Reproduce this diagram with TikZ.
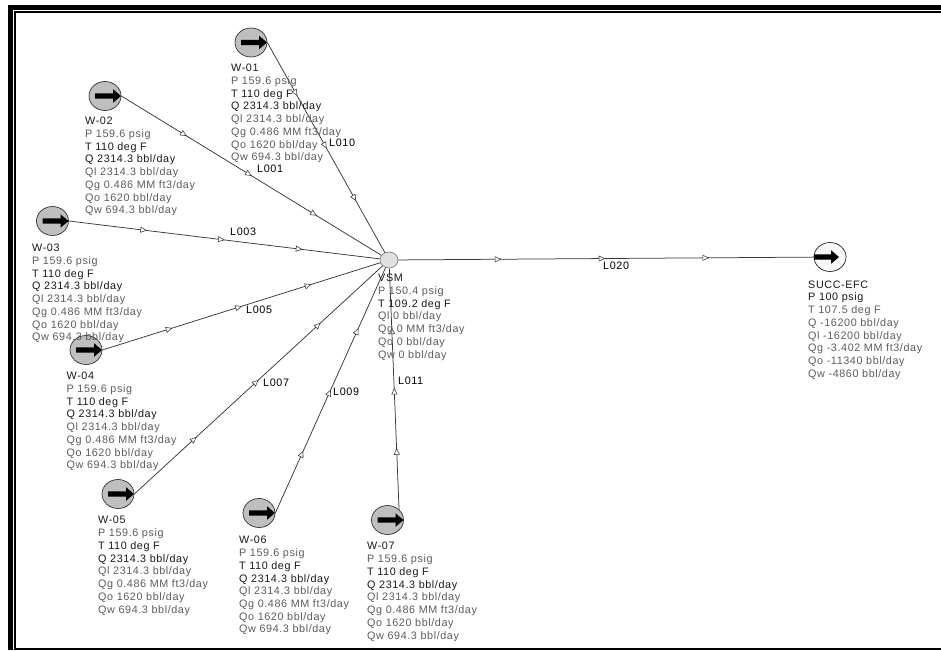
\documentclass[tikz,border=0pt]{standalone}
\usepackage{fontspec}
\setmainfont{Liberation Sans}
\newfontfamily\wideinfo[LetterSpace=5.5]{Liberation Sans}
\usetikzlibrary{shapes.geometric,decorations.markings}
\definecolor{infogrey}{gray}{0.36}
\definecolor{linedark}{gray}{0.22}
\newcommand{\dk}[1]{\textcolor{black!90}{#1}}
\newcommand{\gy}[1]{\textcolor{infogrey}{#1}}
\newcommand{\wellinfo}[1]{\dk{#1}\\\gy{P 159.6 psig}\\\dk{T 110 deg F}\\\dk{Q 2314.3 bbl/day}\\\gy{Ql 2314.3 bbl/day}\\\gy{Qg 0.486 MM ft3/day}\\\gy{Qo 1620 bbl/day}\\\gy{Qw 694.3 bbl/day}}
\tikzset{
  wellnode/.style={ellipse,draw=black!80,line width=0.7pt,fill=black!25,minimum width=32pt,minimum height=29pt,inner sep=0pt},
  junction/.style={ellipse,draw=black!55,line width=0.6pt,fill=black!12,minimum width=18pt,minimum height=16pt,inner sep=0pt},
  sinknode/.style={ellipse,draw=black!85,line width=0.7pt,fill=black!3,minimum width=32pt,minimum height=29pt,inner sep=0pt},
  infotext/.style={anchor=north west,inner sep=0pt,align=left,font=\wideinfo\fontsize{10.8}{12.75}\selectfont},
  pipelabel/.style={anchor=west,inner sep=0pt,text=black,font=\wideinfo\fontsize{10.8}{12}\selectfont},
  pipe/.style={draw=linedark,line width=0.75pt,postaction={decorate},
    decoration={markings,
      mark=at position 0.24 with {\draw[line width=0.55pt,draw=linedark,fill=white] (-2.8pt,2.6pt)--(2.8pt,0pt)--(-2.8pt,-2.6pt)--cycle;},
      mark=at position 0.49 with {\draw[line width=0.55pt,draw=linedark,fill=white] (-2.8pt,2.6pt)--(2.8pt,0pt)--(-2.8pt,-2.6pt)--cycle;},
      mark=at position 0.74 with {\draw[line width=0.55pt,draw=linedark,fill=white] (-2.8pt,2.6pt)--(2.8pt,0pt)--(-2.8pt,-2.6pt)--cycle;}}},
  flowarrow/.pic={\fill[black] (-10,-2.7)--(8,-2.7)--(8,-6.8)--(16,0)--(8,6.8)--(8,2.7)--(-10,2.7)--cycle;},
  sinkarrow/.pic={\fill[black] (-16,-2.7)--(1,-2.7)--(1,-6.8)--(9,0)--(1,6.8)--(1,2.7)--(-16,2.7)--cycle;}
}
\begin{document}
\begin{tikzpicture}[x=1pt,y=-1pt]
\useasboundingbox (0,0) rectangle (941,650);
\fill[white] (0,0) rectangle (941,650);
% frame
\fill[black] (8,5) rectangle (941,10);
\fill[black] (8,5) rectangle (13,650);
\fill[black] (14,11) rectangle (941,13);
\fill[black] (14,11) rectangle (16,650);
\fill[black] (14,647.5) rectangle (941,650);
% nodes
\node[junction] (vsm) at (389,260) {};
\node[wellnode] (w1) at (251,42.5) {};
\node[wellnode] (w2) at (105,96) {};
\node[wellnode] (w3) at (52.5,221) {};
\node[wellnode] (w4) at (86,350) {};
\node[wellnode] (w5) at (118,494) {};
\node[wellnode] (w6) at (259,513) {};
\node[wellnode] (w7) at (387.5,520) {};
\node[sinknode] (succ) at (830,257) {};
% connectors
\draw[pipe] (w1.east) -- (vsm);
\draw[pipe] (w2.east) -- (vsm);
\draw[pipe] (w3.east) -- (vsm);
\draw[pipe] (w4.east) -- (vsm);
\draw[pipe] (w5.east) -- (vsm);
\draw[pipe] (w6.east) -- (vsm);
\draw[pipe] (w7.north east) -- (vsm);
\draw[pipe] (vsm) -- (succ);
% arrows in symbols
\pic at (w1) {flowarrow};
\pic at (w2) {flowarrow};
\pic at (w3) {flowarrow};
\pic at (w4) {flowarrow};
\pic at (w5) {flowarrow};
\pic at (w6) {flowarrow};
\pic at (w7) {flowarrow};
\pic at (succ) {sinkarrow};
% info text
\node[infotext] (t1) at (231,64) {\wellinfo{W-01}};
\node[infotext] (t2) at (85,117) {\wellinfo{W-02}};
\node[infotext] (t3) at (32,244) {\wellinfo{W-03}};
\node[infotext] (t4) at (66.5,372) {\wellinfo{W-04}};
\node[infotext] (t5) at (98,516) {\wellinfo{W-05}};
\node[infotext] (t6) at (239,536) {\wellinfo{W-06}};
\node[infotext] (t7) at (367,542) {\wellinfo{W-07}};
\node[infotext] (tv) at (378,274) {\dk{VSM}\\\gy{P 150.4 psig}\\\dk{T 109.2 deg F}\\\gy{Ql 0 bbl/day}\\\gy{Qg 0 MM ft3/day}\\\gy{Qo 0 bbl/day}\\\gy{Qw 0 bbl/day}};
\node[infotext] (ts) at (808,280.5) {\dk{SUCC-EFC}\\\dk{P 100 psig}\\\gy{T 107.5 deg F}\\\gy{Q -16200 bbl/day}\\\gy{Ql -16200 bbl/day}\\\gy{Qg -3.402 MM ft3/day}\\\gy{Qo -11340 bbl/day}\\\gy{Qw -4860 bbl/day}};
% pipe labels
\node[pipelabel] (l010) at (329,143) {L010};
\node[pipelabel] (l001) at (257,169) {L001};
\node[pipelabel] (l003) at (230,232) {L003};
\node[pipelabel] (l005) at (246,310) {L005};
\node[pipelabel] (l007) at (263,383) {L007};
\node[pipelabel] (l009) at (333,392) {L009};
\node[pipelabel] (l011) at (398,381) {L011};
\node[pipelabel] (l020) at (603,265.5) {L020};
\end{tikzpicture}
\end{document}
